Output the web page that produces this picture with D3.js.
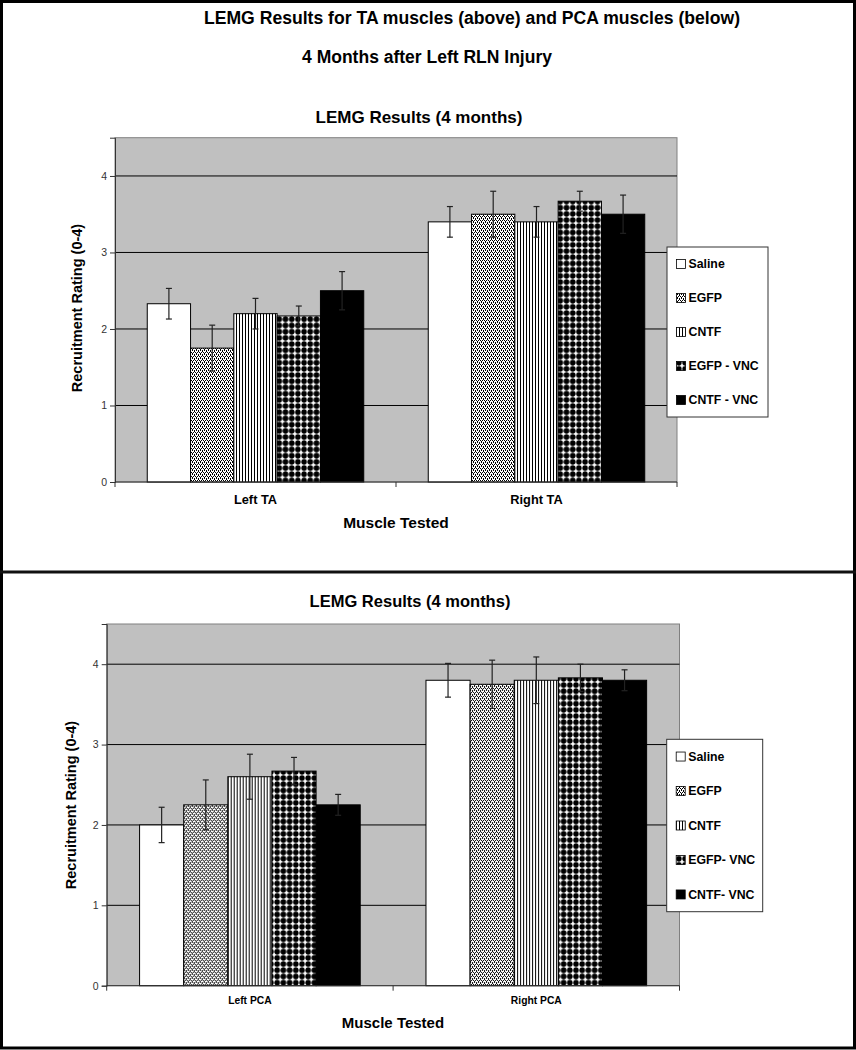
<!DOCTYPE html>
<html>
<head>
<meta charset="utf-8">
<script src="https://cdn.jsdelivr.net/npm/d3@7"></script>
<style>
  html, body { margin: 0; padding: 0; background: #fff; }
  svg { display: block; font-family: "Liberation Sans", Arial, sans-serif; }
</style>
</head>
<body>
<svg id="chart" width="856" height="1050"></svg>
<script>
// ---------- DATA ----------
const seriesNamesTA  = ["Saline", "EGFP", "CNTF", "EGFP - VNC", "CNTF - VNC"];
const seriesNamesPCA = ["Saline", "EGFP", "CNTF", "EGFP- VNC", "CNTF- VNC"];
const taCategories  = ["Left TA", "Right TA"];
const taMeans  = [[2.33, 1.75, 2.20, 2.17, 2.50], [3.40, 3.50, 3.40, 3.67, 3.50]];
const taErrors = [[0.20, 0.30, 0.20, 0.13, 0.25], [0.20, 0.30, 0.20, 0.13, 0.25]];
const pcaCategories = ["Left PCA", "Right PCA"];
const pcaMeans  = [[2.00, 2.25, 2.60, 2.67, 2.25], [3.80, 3.75, 3.80, 3.83, 3.80]];
const pcaErrors = [[0.22, 0.31, 0.28, 0.17, 0.13], [0.21, 0.30, 0.29, 0.17, 0.13]];
const yTicks = [0, 1, 2, 3, 4];
const yMax = 4.5;
const mainTitle = "LEMG Results for TA muscles (above) and PCA muscles (below)";
const subTitle = "4 Months after Left RLN Injury";
const chartTitle = "LEMG Results (4 months)";
const yLabel = "Recruitment Rating (0-4)";
const xLabel = "Muscle Tested";

// ---------- SETUP ----------
const svg = d3.select("#chart");
svg.append("rect").attr("width", 856).attr("height", 1050).attr("fill", "#fff");

const defs = svg.append("defs");
// EGFP: fine staggered speckle
const pEgfp = defs.append("pattern").attr("id", "pEGFP").attr("patternUnits", "userSpaceOnUse")
  .attr("width", 4).attr("height", 4);
pEgfp.append("rect").attr("width", 4).attr("height", 4).attr("fill", "#fff");
[[0,0],[2,0],[1,2],[3,2],[1,1],[3,3]].forEach(([x,y]) =>
  pEgfp.append("rect").attr("x", x).attr("y", y).attr("width", 1).attr("height", 1).attr("fill", "#000"));
// CNTF: vertical stripes
const pCntf = defs.append("pattern").attr("id", "pCNTF").attr("patternUnits", "userSpaceOnUse")
  .attr("width", 3).attr("height", 3);
pCntf.append("rect").attr("width", 3).attr("height", 3).attr("fill", "#fff");
pCntf.append("rect").attr("x", 1).attr("width", 1).attr("height", 3).attr("fill", "#000");
// EGFP-VNC: dotted grid
const pVnc = defs.append("pattern").attr("id", "pVNC").attr("patternUnits", "userSpaceOnUse")
  .attr("width", 6.2).attr("height", 6.2);
pVnc.append("rect").attr("width", 6.2).attr("height", 6.2).attr("fill", "#fff");
pVnc.append("circle").attr("cx", 3.1).attr("cy", 3.1).attr("r", 2.8).attr("fill", "#000");

const fills = ["#ffffff", "url(#pEGFP)", "url(#pCNTF)", "url(#pVNC)", "#000000"];

// Outer frame and divider
svg.append("rect").attr("x", 1.5).attr("y", 1.5).attr("width", 853).attr("height", 1046.5)
  .attr("fill", "none").attr("stroke", "#000").attr("stroke-width", 3);
svg.append("line").attr("x1", 0).attr("x2", 856).attr("y1", 572).attr("y2", 572)
  .attr("stroke", "#111").attr("stroke-width", 3);

// Page titles
svg.append("text").attr("x", 472).attr("y", 24).attr("text-anchor", "middle")
  .attr("font-size", 17.6).attr("font-weight", "bold").text(mainTitle);
svg.append("text").attr("x", 427).attr("y", 62.5).attr("text-anchor", "middle")
  .attr("font-size", 17.5).attr("font-weight", "bold").text(subTitle);

function drawChart(cfg) {
  const g = svg.append("g");
  const x = d3.scaleBand().domain(cfg.categories).range([cfg.x0, cfg.x1]).padding(0);
  const xs = d3.scaleBand().domain(d3.range(cfg.series.length)).range([0, x.bandwidth()])
    .paddingInner(0).paddingOuter(0.745);
  const y = d3.scaleLinear().domain([0, yMax]).range([cfg.y0, cfg.y1]);

  // plot area
  g.append("rect").attr("x", cfg.x0).attr("y", y(yMax)).attr("width", cfg.x1 - cfg.x0)
    .attr("height", y(0) - y(yMax)).attr("fill", "#c0c0c0").attr("stroke", "#808080").attr("stroke-width", 1);

  // gridlines
  g.selectAll(".grid").data(yTicks.filter(d => d > 0)).join("line")
    .attr("x1", cfg.x0).attr("x2", cfg.x1).attr("y1", d => y(d)).attr("y2", d => y(d))
    .attr("stroke", "#000").attr("stroke-width", 1);

  // bars
  cfg.categories.forEach((cat, ci) => {
    const cg = g.append("g").attr("transform", `translate(${x(cat)},0)`);
    cg.selectAll("rect.bar").data(cfg.means[ci]).join("rect").attr("class", "bar")
      .attr("x", (d, i) => xs(i)).attr("width", xs.bandwidth())
      .attr("y", d => y(d)).attr("height", d => y(0) - y(d))
      .attr("fill", (d, i) => fills[i]).attr("stroke", "#000").attr("stroke-width", 1);
    // error bars
    const eb = cg.selectAll("g.err").data(cfg.means[ci].map((m, i) => ({m, e: cfg.errors[ci][i], i})))
      .join("g").attr("class", "err");
    eb.append("line").attr("x1", d => xs(d.i) + xs.bandwidth() / 2).attr("x2", d => xs(d.i) + xs.bandwidth() / 2)
      .attr("y1", d => y(d.m + d.e)).attr("y2", d => y(d.m - d.e)).attr("stroke", "#222").attr("stroke-width", 1.2);
    [1, -1].forEach(s => {
      eb.append("line").attr("x1", d => xs(d.i) + xs.bandwidth() / 2 - 3).attr("x2", d => xs(d.i) + xs.bandwidth() / 2 + 3)
        .attr("y1", d => y(d.m + s * d.e)).attr("y2", d => y(d.m + s * d.e)).attr("stroke", "#222").attr("stroke-width", 1.2);
    });
  });

  // y axis
  const ya = g.append("g").attr("transform", `translate(${cfg.x0},0)`)
    .call(d3.axisLeft(y).tickValues(yTicks).tickSize(5).tickPadding(3).tickFormat(d3.format("d")));
  ya.select(".domain").attr("stroke", "#333");
  ya.selectAll(".tick line").attr("stroke", "#333");
  ya.selectAll(".tick text").attr("font-size", 10.5).attr("fill", "#333")
    .attr("font-family", "'Liberation Sans', Arial, sans-serif");

  // x axis line and boundary ticks
  g.append("line").attr("x1", cfg.x0).attr("x2", cfg.x1).attr("y1", y(0)).attr("y2", y(0))
    .attr("stroke", "#333").attr("stroke-width", 1);
  const bounds = [cfg.x0].concat(cfg.categories.map(c => x(c) + x.bandwidth()));
  g.selectAll(".xt").data(bounds).join("line")
    .attr("x1", d => d).attr("x2", d => d).attr("y1", y(0)).attr("y2", y(0) + 5)
    .attr("stroke", "#333");
  g.selectAll(".xl").data(cfg.categories).join("text")
    .attr("x", d => x(d) + x.bandwidth() / 2).attr("y", y(0) + cfg.catDy)
    .attr("text-anchor", "middle").attr("font-size", cfg.catSize).attr("font-weight", "bold").text(d => d);

  // titles
  g.append("text").attr("x", cfg.titleX).attr("y", cfg.titleY).attr("text-anchor", "middle")
    .attr("font-size", cfg.titleSize).attr("font-weight", "bold").text(chartTitle);
  g.append("text").attr("x", cfg.xLabelX).attr("y", cfg.xLabelY).attr("text-anchor", "middle")
    .attr("font-size", cfg.xLabelSize).attr("font-weight", "bold").text(xLabel);
  g.append("text").attr("transform", `translate(${cfg.yLabelX},${cfg.yLabelY}) rotate(-90)`)
    .attr("text-anchor", "middle").attr("dy", "0.35em")
    .attr("font-size", 14.5).attr("font-weight", "bold").text(yLabel);

  // legend
  const L = cfg.legend;
  const lg = g.append("g");
  lg.append("rect").attr("x", L.x).attr("y", L.y).attr("width", L.w).attr("height", L.h)
    .attr("fill", "#fff").attr("stroke", "#333").attr("stroke-width", 1);
  const step = L.h / cfg.series.length;
  cfg.series.forEach((name, i) => {
    const cy = L.y + step / 2 + i * step;
    lg.append("rect").attr("x", L.x + 9.5).attr("y", cy - 4.5).attr("width", 9).attr("height", 9)
      .attr("fill", fills[i]).attr("stroke", "#000").attr("stroke-width", 0.8);
    lg.append("text").attr("x", L.x + 21.5).attr("y", cy).attr("dy", "0.35em")
      .attr("font-size", 12.3).attr("font-weight", "bold").text(name);
  });
}

drawChart({
  categories: taCategories, series: seriesNamesTA, means: taMeans, errors: taErrors,
  x0: 115, x1: 677, y0: 482, y1: 137.7,
  catDy: 21.5, catSize: 12.8,
  titleX: 419, titleY: 122.5, titleSize: 17,
  xLabelX: 396, xLabelY: 527.5, xLabelSize: 15.5,
  yLabelX: 77, yLabelY: 308,
  legend: {x: 667, y: 247, w: 101, h: 170}
});
drawChart({
  categories: pcaCategories, series: seriesNamesPCA, means: pcaMeans, errors: pcaErrors,
  x0: 106.7, x1: 679.5, y0: 985.7, y1: 624,
  catDy: 18.5, catSize: 10.3,
  titleX: 410, titleY: 607, titleSize: 16.5,
  xLabelX: 393, xLabelY: 1028, xLabelSize: 15,
  yLabelX: 71, yLabelY: 805,
  legend: {x: 666.7, y: 739.3, w: 96, h: 172.4}
});
</script>
</body>
</html>
